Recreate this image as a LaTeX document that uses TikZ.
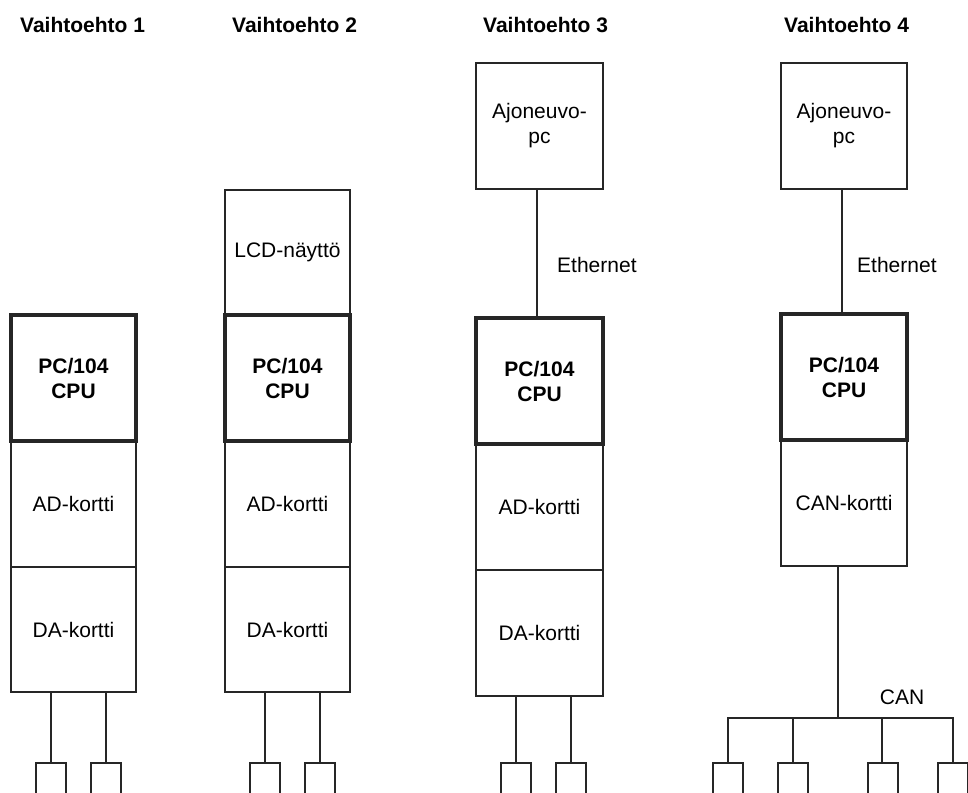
\documentclass[tikz,border=0pt]{standalone}
\usepackage{fontspec}
\setmainfont{Liberation Sans}
\begin{document}
\begin{tikzpicture}[x=1pt,y=-1pt,
  txt/.style={font=\fontsize{21}{25}\selectfont, align=center},
  box/.style={draw=black!85, line width=1.3pt, inner sep=0pt, txt, minimum height=126pt},
  cpubox/.style={box, line width=3.8pt, font=\fontsize{21}{25}\selectfont\bfseries},
  wire/.style={draw=black!85, line width=1.3pt},
  head/.style={font=\fontsize{21}{25}\selectfont\bfseries, anchor=west, inner sep=0pt}]
\useasboundingbox (0,0) rectangle (968,792);
\clip (0,0) rectangle (968,792);
% headers
\node[head] (h1) at (20,25) {Vaihtoehto 1};
\node[head] (h2) at (232,25) {Vaihtoehto 2};
\node[head] (h3) at (483,25) {Vaihtoehto 3};
\node[head] (h4) at (784,25) {Vaihtoehto 4};
% column 1
\node[box, minimum width=125pt] (ad1) at (73.5,504) {AD-kortti};
\node[box, minimum width=125pt, minimum height=125pt] (da1) at (73.5,629.5) {DA-kortti};
\node[cpubox, minimum width=125pt] (cpu1) at (73.5,378) {PC/104\\CPU};
% column 2
\node[box, minimum width=125pt, minimum height=125pt] (lcd2) at (287.5,252.5) {LCD-näyttö};
\node[box, minimum width=125pt] (ad2) at (287.5,504) {AD-kortti};
\node[box, minimum width=125pt, minimum height=125pt] (da2) at (287.5,629.5) {DA-kortti};
\node[cpubox, minimum width=125pt] (cpu2) at (287.5,378) {PC/104\\CPU};
% column 3
\node[box, minimum width=127pt] (pc3) at (539.5,126) {Ajoneuvo-\\pc};
\node[box, minimum width=127pt] (ad3) at (539.5,507) {AD-kortti};
\node[box, minimum width=127pt] (da3) at (539.5,633) {DA-kortti};
\node[cpubox, minimum width=127pt] (cpu3) at (539.5,381) {PC/104\\CPU};
% column 4
\node[box, minimum width=126pt] (pc4) at (844,126) {Ajoneuvo-\\pc};
\node[box, minimum width=126pt] (can4) at (844,503) {CAN-kortti};
\node[cpubox, minimum width=126pt] (cpu4) at (844,377) {PC/104\\CPU};
% ethernet
\draw[wire] (537,189) -- (537,318);
\node[txt, anchor=west, inner sep=0pt] (eth3) at (557,265) {Ethernet};
\draw[wire] (842,189) -- (842,314);
\node[txt, anchor=west, inner sep=0pt] (eth4) at (857,265) {Ethernet};
% small device boxes
\foreach \n/\xl in {s1a/36,s1b/91,s2a/250,s2b/305,s3a/501,s3b/556,s4a/713,s4b/778,s4c/868,s4d/938}{
  \coordinate (\n) at (\xl+15,763);
  \draw[wire] (\xl,800) -- (\xl,763) -- (\xl+30,763) -- (\xl+30,800);
}
% wires from DA cards
\draw[wire] (51,692) -- (s1a);
\draw[wire] (106,692) -- (s1b);
\draw[wire] (265,692) -- (s2a);
\draw[wire] (320,692) -- (s2b);
\draw[wire] (516,696) -- (s3a);
\draw[wire] (571,696) -- (s3b);
% CAN bus
\coordinate (bus) at (838,718);
\draw[wire] (can4.south -| bus) -- (bus);
\draw[wire] (728,763) -- (728,718) -- (953,718) -- (953,763);
\draw[wire] (793,718) -- (793,763);
\draw[wire] (882,718) -- (882,763);
\node[txt, inner sep=0pt] (canlbl) at (902,697) {CAN};
\end{tikzpicture}
\end{document}
